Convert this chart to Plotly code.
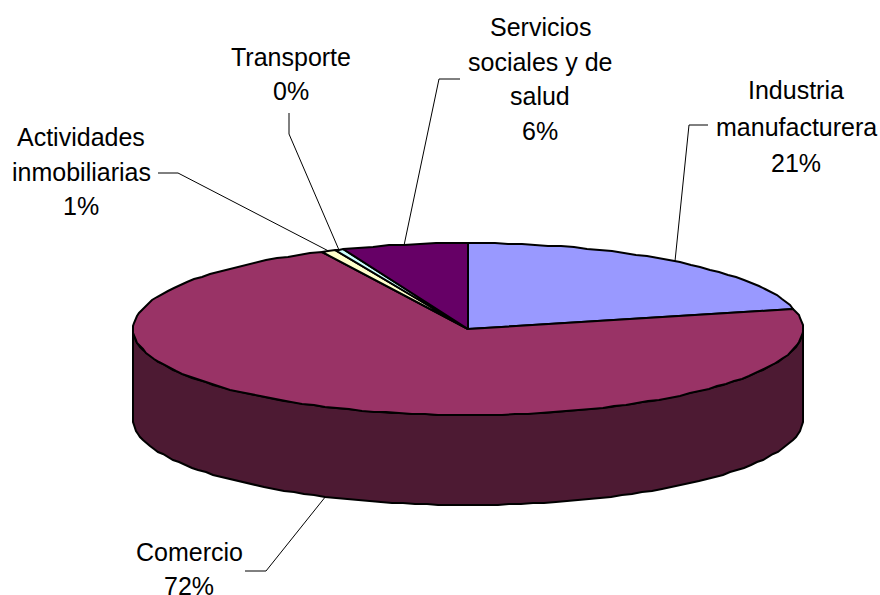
import numpy as np
import plotly.graph_objects as go

# ---- data ----
categories = ["Industria manufacturera", "Comercio", "Actividades inmobiliarias", "Transporte", "Servicios sociales y de salud"]
values = [21.2, 71.6, 0.7, 0.4, 6.1]
top_colors = ["#9999FF", "#993366", "#FFFFCC", "#CCFFFF", "#660066"]
wall_colors = ["#4D4D80", "#4D1A33", "#808066", "#668080", "#330033"]
label_lines = [["Industria", "manufacturera"], ["Comercio"], ["Actividades", "inmobiliarias"], ["Transporte"], ["Servicios", "sociales y de", "salud"]]

# ---- layout of the drawing ----
W, H = 880, 595
CX, CY, RX, RY, DEPTH = 468, 329, 335, 86, 90
FONT = 25
LABEL_X = [796, 189, 81, 291, 540]
LABEL_Y0 = [90, 552, 137, 57, 27]
LINE_STEP = [36.5, 34, 34.5, 34, 34.7]
ELBOWS = [[(689, 125), (708, 125)], [(266, 571), (245, 571)], [(178, 173), (158, 173)], [(289, 134), (289, 113)], [(439, 79), (460, 79)]]

def pt(deg, drop=0):
    a = np.radians(deg)
    return CX + RX*np.sin(a), CY - RY*np.cos(a) + drop

fig = go.Figure()
total = sum(values)
edges = np.concatenate([[0], np.cumsum(values)]) / total * 360

def poly(xs, ys, fill, width=2):
    fig.add_trace(go.Scatter(x=np.round(xs), y=np.round(ys), mode="lines", fill="toself", fillcolor=fill,
                             line=dict(color="black", width=width), hoverinfo="skip", showlegend=False))

# side walls: only the part of each slice on the front half of the ellipse
for i in range(len(values)):
    a0, a1 = max(edges[i], 90), min(edges[i+1], 270)
    if a1 > a0:
        t = np.linspace(a0, a1, 90)
        x1, y1 = pt(t)
        x2, y2 = pt(t[::-1], DEPTH)
        poly(np.r_[x1, x2, x1[0]], np.r_[y1, y2, y1[0]], wall_colors[i])

# tops
for i in range(len(values)):
    t = np.linspace(edges[i], edges[i+1], max(3, int((edges[i+1]-edges[i])/2.2)))
    x, y = pt(t)
    poly(np.r_[CX, x, CX], np.r_[CY, y, CY], top_colors[i])

# leader lines, anchored at each slice's mid angle
for i in range(len(values)):
    mid = (edges[i] + edges[i+1]) / 2
    ax, ay = pt(mid, DEPTH if 90 < mid < 270 else 0)
    xs = [ax] + [p[0] for p in ELBOWS[i]]
    ys = [ay] + [p[1] for p in ELBOWS[i]]
    fig.add_trace(go.Scatter(x=xs, y=ys, mode="lines", line=dict(color="black", width=1),
                             hoverinfo="skip", showlegend=False))

# labels, one annotation per line to keep the wide line spacing
for i in range(len(values)):
    lines = label_lines[i] + [f"{round(values[i]/total*100)}%"]
    for j, s in enumerate(lines):
        fig.add_annotation(x=LABEL_X[i], y=LABEL_Y0[i] + j*LINE_STEP[i], text=s, showarrow=False,
                           xanchor="center", yanchor="middle",
                           font=dict(family="Liberation Sans", size=FONT, color="black"))

fig.update_layout(width=W, height=H, margin=dict(l=0, r=0, t=0, b=0), autosize=False,
                  paper_bgcolor="white", plot_bgcolor="white", showlegend=False,
                  xaxis=dict(range=[0, W], visible=False, fixedrange=True),
                  yaxis=dict(range=[H, 0], visible=False, fixedrange=True))
fig.write_html("out.html", config={"displayModeBar": False},
               post_script="document.body.style.margin='0';document.body.style.overflow='hidden';")
